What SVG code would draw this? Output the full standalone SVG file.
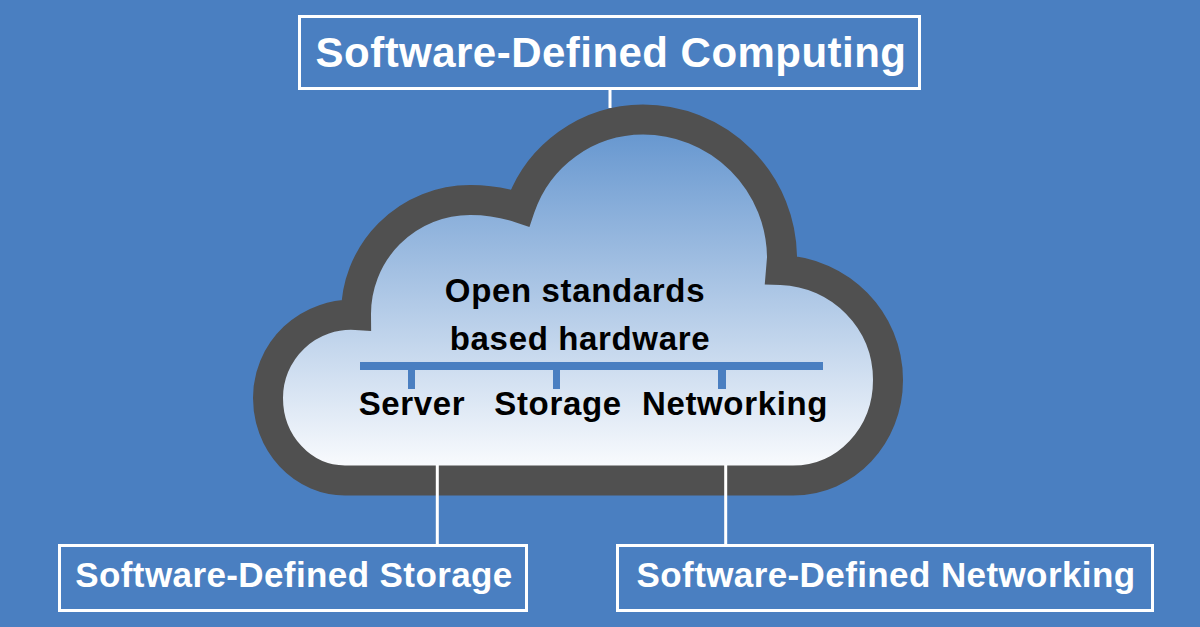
<svg xmlns="http://www.w3.org/2000/svg" width="1200" height="627" viewBox="0 0 1200 627">
<style>
.box{fill:none;stroke:#fff;stroke-width:3}
.lab{font-family:"Liberation Sans",Arial,sans-serif;font-weight:700;fill:#fff}
.in{font-family:"Liberation Sans",Arial,sans-serif;font-weight:700;fill:#000;font-size:33px;letter-spacing:.65px}
.con{stroke:#fff;stroke-width:3;fill:none}
.bus{fill:#4a7fc1}
</style>
<defs>
<linearGradient id="g" gradientUnits="userSpaceOnUse" x1="0" y1="135" x2="0" y2="465">
<stop offset="0" stop-color="#6898d0"/>
<stop offset="1" stop-color="#f8fafd"/>
</linearGradient>
</defs>
<rect width="1200" height="627" fill="#4a7fc1"/>
<g id="cloud">
<path d="M345 480.500A77 82.500 0 0 1 268 398A83 83 0 0 1 356 315A114 114 0 0 1 470 200A155 155 0 0 1 520 208A130 130 0 0 1 643 119.500A139 139 0 0 1 782 258L781 270C840 272 888 320 888 380C888 436 846 480.500 793 480.500Z" fill="url(#g)" stroke="#505050" stroke-width="30" stroke-miterlimit="10"/>
</g>
<g id="connectors">
<path class="con" d="M610 89V108M437.300 465V545M725.700 465V545"/>
</g>
<g id="hardware">
<text class="in" x="575" y="302" text-anchor="middle">Open standards</text>
<text class="in" x="580" y="350" text-anchor="middle">based hardware</text>
<rect class="bus" x="360" y="362" width="463" height="8"/>
<rect class="bus" x="408" y="370" width="7" height="19"/>
<rect class="bus" x="553" y="370" width="7" height="19"/>
<rect class="bus" x="718" y="370" width="8" height="19"/>
</g>
<g id="server"><text class="in" x="412" y="415" text-anchor="middle">Server</text></g>
<g id="storage"><text class="in" x="558" y="415" text-anchor="middle">Storage</text></g>
<g id="networking"><text class="in" x="735" y="415" text-anchor="middle">Networking</text></g>
<g id="sdc">
<rect class="box" x="299.500" y="16.500" width="620" height="72"/>
<text class="lab" x="611" y="67" text-anchor="middle" font-size="42" letter-spacing=".47">Software-Defined Computing</text>
</g>
<g id="sds">
<rect class="box" x="59.500" y="545.500" width="467" height="65"/>
<text class="lab" x="294" y="587" text-anchor="middle" font-size="35" letter-spacing=".4">Software-Defined Storage</text>
</g>
<g id="sdn">
<rect class="box" x="617.500" y="545.500" width="535" height="65"/>
<text class="lab" x="886" y="587" text-anchor="middle" font-size="35" letter-spacing=".4">Software-Defined Networking</text>
</g>
</svg>
